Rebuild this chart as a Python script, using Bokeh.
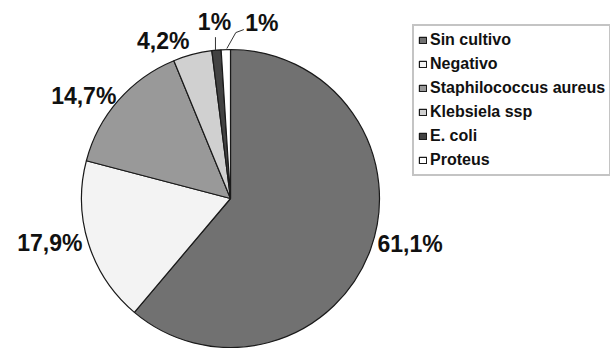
import math
from bokeh.plotting import figure
from bokeh.models import ColumnDataSource, Range1d, Legend, LegendItem
from bokeh.core.properties import value
from bokeh.embed import file_html
from bokeh.resources import INLINE

# ---- data ----
categories = ["Sin cultivo", "Negativo", "Staphilococcus aureus", "Klebsiela ssp", "E. coli", "Proteus"]
percentages = [61.1, 17.9, 14.7, 4.2, 1.0, 1.0]
pct_labels = ["61,1%", "17,9%", "14,7%", "4,2%", "1%", "1%"]
colors = ["#717171", "#f3f3f3", "#999999", "#d0d0d0", "#424242", "#ffffff"]

# ---- layout / style (pixels) ----
W, H = 610, 348
CX, CY_PX, R = 230, 198, 149
CY = H - CY_PX
# label offsets from rim point at slice mid-angle (dx, dy in screen px, down positive)
label_offsets = [(7, -6), (-6, 0), (-2, -4), (-3, -13), (-2, -28), (36, -27)]
label_align = ["left", "right", "right", "right", "center", "center"]
leader = [None, None, None, None, [(-1, 0), (-1, -13)], [(1, -1), (10, -17), (18, -20)]]

total = sum(percentages)
starts, ends, mids = [], [], []
cum = 0.0
for v in percentages:
    a0 = math.pi / 2 - 2 * math.pi * cum / total
    cum += v
    a1 = math.pi / 2 - 2 * math.pi * cum / total
    starts.append(a0)
    ends.append(a1)
    mids.append((a0 + a1) / 2)

rim_x = [CX + R * math.cos(m) for m in mids]
rim_y = [CY + R * math.sin(m) for m in mids]

src = ColumnDataSource(dict(category=categories, start=starts, end=ends, color=colors,
                            x=[CX] * len(categories), y=[CY] * len(categories)))

p = figure(width=W, height=H, x_range=Range1d(0, W), y_range=Range1d(0, H),
           output_backend="svg", toolbar_location=None, min_border=0)
p.axis.visible = False
p.grid.visible = False
p.outline_line_color = None
p.background_fill_color = "white"
p.border_fill_color = "white"

wr = p.wedge(x="x", y="y", radius=R, start_angle="start", end_angle="end", direction="clock",
             fill_color="color", line_color="#1a1a1a", line_width=1.2, source=src)

# leader lines
for i, pts in enumerate(leader):
    if pts is None:
        continue
    xs = [rim_x[i] + dx for dx, dy in pts]
    ys = [rim_y[i] - dy for dx, dy in pts]
    p.line(xs, ys, line_color="#333333", line_width=1)

lx = [rim_x[i] + label_offsets[i][0] for i in range(len(categories))]
ly = [rim_y[i] - label_offsets[i][1] for i in range(len(categories))]
lsrc = ColumnDataSource(dict(x=lx, y=ly, text=pct_labels, align=label_align))
p.text(x="x", y="y", text="text", text_align="align", text_baseline="middle", source=lsrc,
       text_font=value("Liberation Sans"), text_font_style="bold", text_font_size="23px",
       text_color="#111111")

legend = Legend(items=[LegendItem(label=c, renderers=[wr], index=i) for i, c in enumerate(categories)],
                location=(412, H - 176), orientation="vertical",
                glyph_width=9, glyph_height=8, label_standoff=3, label_height=20, spacing=4,
                padding=4, margin=0,
                label_text_font="Liberation Sans", label_text_font_style="bold",
                label_text_font_size="16px", label_text_color="#111111",
                border_line_color="#8a8a8a", border_line_width=2,
                background_fill_color="white", background_fill_alpha=1.0)
p.add_layout(legend, "center")

open("out.html", "w").write(file_html(p, INLINE))
